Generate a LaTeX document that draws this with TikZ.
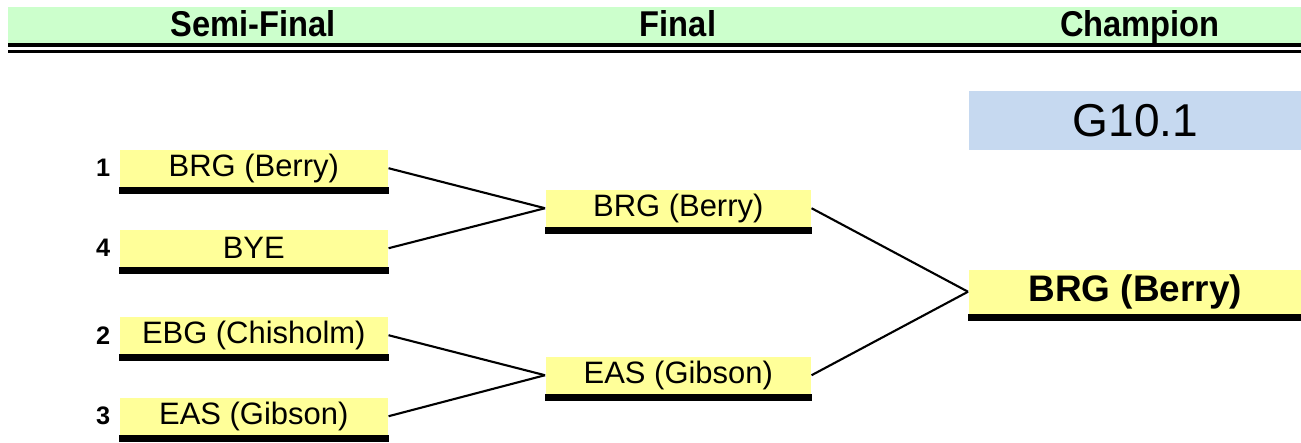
\documentclass[tikz,border=0pt]{standalone}
\usepackage{fontspec}
\setmainfont{Liberation Sans}
\newfontfamily\headfont[FakeStretch=0.91]{Liberation Sans}
\usetikzlibrary{positioning}

\definecolor{teamyellow}{HTML}{FFFF99}
\definecolor{headgreen}{HTML}{CCFFCC}
\definecolor{gameblue}{HTML}{C6D9F0}

\tikzset{
    team/.style={fill=teamyellow,anchor=north west,inner sep=0pt,minimum height=.37cm,
        font=\fontsize{8.8}{10}\selectfont},
    semi/.style={team,minimum width=2.68cm},
    fin/.style={team,minimum width=2.65cm},
    champ/.style={team,minimum width=3.33cm,minimum height=.44cm,
        font=\bfseries\fontsize{10.5}{12}\selectfont},
    seed/.style={inner sep=0pt,font=\bfseries\fontsize{7.2}{8}\selectfont},
    heading/.style={anchor=base,font=\headfont\bfseries\fontsize{10.2}{12}\selectfont},
    link/.style={line width=.6pt}
}

\begin{document}
\begin{tikzpicture}[x=.01cm,y=-.01cm]
    \useasboundingbox (0,0) rectangle (1301,442);

    % header band
    \fill[headgreen] (8,7) rectangle (1301,43);
    \draw[line width=1.14pt] (8,45) -- (1301,45);
    \draw[line width=.94pt] (8,51.7) -- (1301,51.7);
    \node[heading] (hsemi) at (253,36) {Semi-Final};
    \node[heading] (hfinal) at (678,36) {Final};
    \node[heading] (hchamp) at (1140,36) {Champion};

    % game label
    \node[fill=gameblue,anchor=north west,inner sep=0pt,minimum width=3.33cm,minimum height=.59cm,
        font=\fontsize{13.1}{15}\selectfont] (game) at (968,90) {G10.1};

    % semi-finals
    \node[semi] (s1) at (119,149) {BRG (Berry)};
    \node[semi] (s4) at (119,229) {BYE};
    \node[semi] (s2) at (119,316) {EBG (Chisholm)};
    \node[semi] (s3) at (119,397) {EAS (Gibson)};
    \foreach \n/\k in {s1/1,s4/4,s2/2,s3/3}
        \node[seed,left=.08cm of \n] (seed\k) {\k};

    % final
    \node[fin] (f1) at (545,189) {BRG (Berry)};
    \node[fin] (f2) at (545,356) {EAS (Gibson)};

    % champion
    \node[champ] (ch) at (968,269) {BRG (Berry)};

    % underline bars
    \foreach \n in {s1,s4,s2,s3,f1,f2,ch}
        \fill (\n.south west) rectangle ([yshift=-.07cm]\n.south east);

    % bracket lines
    \draw[link] (s1.east) -- (f1.west);
    \draw[link] (s4.east) -- (f1.west);
    \draw[link] (s2.east) -- (f2.west);
    \draw[link] (s3.east) -- (f2.west);
    \draw[link] (f1.east) -- (ch.west);
    \draw[link] (f2.east) -- (ch.west);
\end{tikzpicture}
\end{document}
